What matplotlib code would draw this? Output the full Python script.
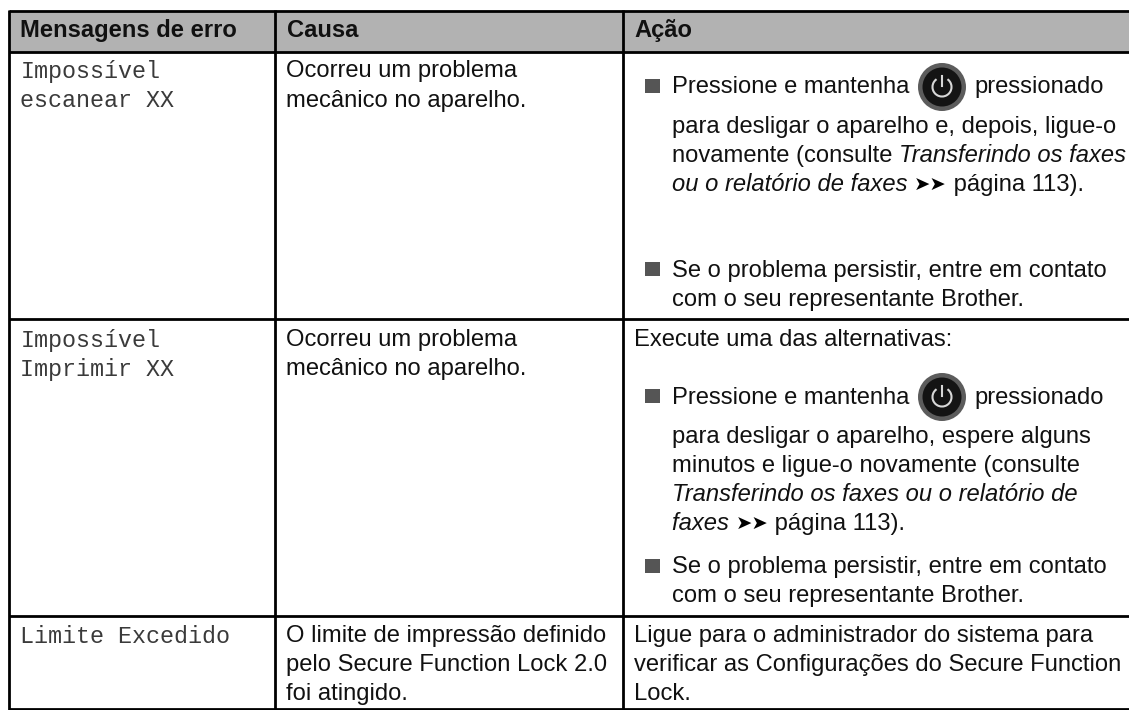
import matplotlib
matplotlib.use("Agg")
import matplotlib.pyplot as plt
from matplotlib.patches import Rectangle, Circle, Arc
from matplotlib.lines import Line2D

SANS = "Liberation Sans"
MONO = "Liberation Mono"
ARROWS = "\u27a4\u27a4"

headers = ["Mensagens de erro", "Causa", "Ação"]
messages = [["Impossível", "escanear XX"], ["Impossível", "Imprimir XX"], ["Limite Excedido"]]
causes = [
    ["Ocorreu um problema", "mecânico no aparelho."],
    ["Ocorreu um problema", "mecânico no aparelho."],
    ["O limite de impressão definido", "pelo Secure Function Lock 2.0", "foi atingido."],
]
press_before = "Pressione e mantenha"
press_after = "pressionado"
action_row1 = [
    [("para desligar o aparelho e, depois, ligue-o", "n")],
    [("novamente (consulte ", "n"), ("Transferindo os faxes", "i")],
    [("ou o relatório de faxes ", "i"), (ARROWS, "a"), (" página 113).", "n")],
]
persist = ["Se o problema persistir, entre em contato", "com o seu representante Brother."]
action_row2_intro = "Execute uma das alternativas:"
action_row2 = [
    [("para desligar o aparelho, espere alguns", "n")],
    [("minutos e ligue-o novamente (consulte", "n")],
    [("Transferindo os faxes ou o relatório de", "i")],
    [("faxes ", "i"), (ARROWS, "a"), (" página 113).", "n")],
]
action_row3 = [
    "Ligue para o administrador do sistema para",
    "verificar as Configurações do Secure Function",
    "Lock.",
]

W, H = 1129, 710
FS = 17.1
fig = plt.figure(figsize=(W / 100, H / 100), dpi=100, facecolor="white")
ax = fig.add_axes([0, 0, 1, 1])
ax.set_xlim(0, W)
ax.set_ylim(H, 0)
ax.axis("off")

V0, V1, V2 = 9, 275, 623
X0, X1, X2 = 20.5, 286.5, 634
XB, XT = 645, 672
XP = 974
XI = 942

ax.add_patch(Rectangle((V0, 11), W - V0, 41, fc="#b2b2b2", ec="none", zorder=0))
lw = 2.0
for y in (11, 52, 319, 615.5, 708.5):
    ax.add_line(Line2D([V0, W], [y, y], color="black", lw=lw, zorder=3, solid_capstyle="butt"))
for x in (V0, V1, V2):
    ax.add_line(Line2D([x, x], [10, 709.5], color="black", lw=lw, zorder=3, solid_capstyle="butt"))


def put(x, y, s, kind="n"):
    kw = dict(color="#111111", va="baseline", ha="left", fontsize=FS, family=SANS)
    if kind == "i":
        kw["style"] = "italic"
    if kind == "b":
        kw["weight"] = "bold"
    if kind == "a":
        kw.update(family="DejaVu Sans", fontsize=14, color="black")
    return ax.text(x, y, s, **kw)


def put_segments(x, y, segs):
    r = fig.canvas.get_renderer()
    for s, k in segs:
        t = put(x, y, s, k)
        x += t.get_window_extent(r).width


def mono(x, y, s):
    ax.text(x, y, s, family=MONO, fontsize=16.8, color="#3a3a3a", va="baseline", ha="left")


def icon(cx, cy):
    # the power symbol exists in no installed family, so it is drawn as a shape
    ax.add_patch(Circle((cx, cy), 24, fc="#5c5c5c", ec="none", zorder=2))
    ax.add_patch(Circle((cx, cy), 19.5, fc="#141414", ec="none", zorder=2))
    ax.add_patch(Arc((cx, cy), 19, 19, theta1=-55, theta2=235, color="#d8d8d8", lw=1.5, zorder=4))
    ax.add_line(Line2D([cx, cx], [cy - 11, cy - 1], color="#d8d8d8", lw=1.5, zorder=4))


def bullet(cy):
    ax.add_patch(Rectangle((XB, cy - 7), 15, 14, fc="#555555", ec="none"))


for x, h in zip((X0, X1, X2), headers):
    put(x, 37, h, "b")

for base, lines in zip(([78, 107], [347, 376], [643]), messages):
    for y, s in zip(base, lines):
        mono(X0, y, s)
for base, lines in zip(([77, 107], [346, 375], [642, 671, 700]), causes):
    for y, s in zip(base, lines):
        put(X1, y, s)

# Action, row 1
bullet(85.5)
put(XT, 93, press_before)
icon(XI, 87)
put(XP, 93, press_after)
for y, segs in zip((133, 162, 191), action_row1):
    put_segments(XT, y, segs)
bullet(269)
for y, s in zip((277, 306), persist):
    put(XT, y, s)

# Action, row 2
put(X2, 346, action_row2_intro)
bullet(396)
put(XT, 404, press_before)
icon(XI, 397)
put(XP, 404, press_after)
for y, segs in zip((443, 472, 501, 530), action_row2):
    put_segments(XT, y, segs)
bullet(565.5)
for y, s in zip((573, 602), persist):
    put(XT, y, s)

# Action, row 3
for y, s in zip((642, 671, 700), action_row3):
    put(X2, y, s)

fig.savefig("out.png", dpi=100, facecolor="white")
